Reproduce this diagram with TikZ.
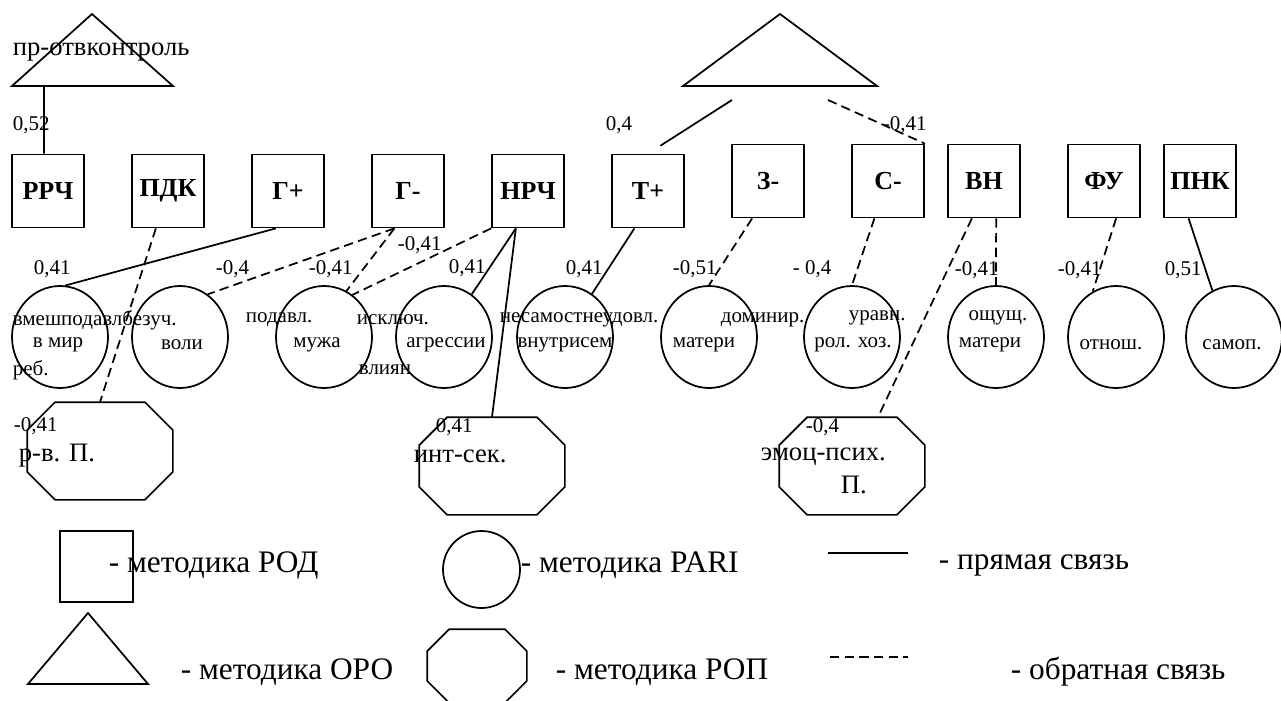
\documentclass[tikz,border=0pt]{standalone}
\usepackage{fontspec}
\setmainfont{Liberation Serif}
\usetikzlibrary{shapes.geometric}

\newcommand{\octo}[2]{%
  \draw ([xshift=#2]#1.north west) -- ([xshift=-#2]#1.north east) -- ([yshift=-#2]#1.north east)
    -- ([yshift=#2]#1.south east) -- ([xshift=-#2]#1.south east) -- ([xshift=#2]#1.south west)
    -- ([yshift=#2]#1.south west) -- ([yshift=-#2]#1.north west) -- cycle;}

\begin{document}
\begin{tikzpicture}[x=0.75pt, y=-0.75pt, line width=1.3pt,
  rod/.style={rectangle, draw=black, minimum width=54pt, minimum height=54.75pt, inner sep=0pt, font=\fontsize{19.5}{22}\selectfont\bfseries},
  pari/.style={ellipse, draw=black, minimum width=72pt, minimum height=76.5pt, inner sep=0pt},
  rop/.style={rectangle, minimum width=108pt, minimum height=72pt, inner sep=0pt},
  coef/.style={anchor=west, inner sep=0pt, font=\fontsize{15.75}{18}\selectfont},
  txt/.style={inner sep=0pt, font=\fontsize{15.75}{18}\selectfont},
  big/.style={anchor=west, inner sep=0pt, font=\fontsize{20}{22}\selectfont},
  leg/.style={anchor=west, inner sep=0pt, font=\fontsize{23.5}{26}\selectfont},
  back/.style={dash pattern=on 7pt off 4pt}]
\useasboundingbox (0,0) rectangle (1281,700);

\draw (12,86) -- (92,14) -- (173,86) -- cycle;
\node[big] (oro1) at (12,52) {пр-отвконтроль};
\coordinate (tri1) at (44,86);
\draw (683,86) -- (780,14) -- (877,86) -- cycle;
\coordinate (tri2a) at (732,100);
\coordinate (tri2b) at (828,100);

\node[rod] (rrch) at (48,191) {РРЧ};
\node[rod] (pdk) at (168,191) {ПДК};
\node[rod] (gplus) at (288,191) {Г+};
\node[rod] (gminus) at (408,191) {Г-};
\node[rod] (nrch) at (528,191) {НРЧ};
\node[rod] (tplus) at (648,191) {Т+};
\node[rod] (zminus) at (768,181) {З-};
\node[rod] (cminus) at (888,181) {С-};
\node[rod] (vn) at (984,181) {ВН};
\node[rod] (fu) at (1104,181) {ФУ};
\node[rod] (pnk) at (1200,181) {ПНК};

\node[pari] (vmesh) at (60,337) {};
\node[pari] (voli) at (180,337) {};
\node[pari] (muzha) at (324,337) {};
\node[pari] (agr) at (444,337) {};
\node[pari] (vnutr) at (565,337) {};
\node[pari] (materi) at (709,337) {};
\node[pari] (rolhoz) at (852,337) {};
\node[pari] (oshch) at (996,337) {};
\node[pari] (otnosh) at (1116,337) {};
\node[pari] (samop) at (1234,337) {};

\node[txt, anchor=west] (t1) at (12,320) {вмешподавлбезуч.};
\node[txt] (t2) at (58,345) {в мир};
\node[txt, anchor=west] (t3) at (12,370) {реб.};
\node[txt] (t4) at (182,345) {воли};
\node[txt, anchor=west] (t5) at (245,320) {подавл.};
\node[txt] (t6) at (317,345) {мужа};
\node[txt, anchor=west] (t7) at (356,320) {исключ.};
\node[txt] (t8) at (446,345) {агрессии};
\node[txt, anchor=west] (t9) at (358,370) {влиян};
\node[txt, anchor=west] (t10) at (499,320) {несамостнеудовл.};
\node[txt] (t11) at (565,345) {внутрисем};
\node[txt, anchor=west] (t12) at (720,320) {доминир.};
\node[txt] (t13) at (704,345) {матери};
\node[txt, anchor=west] (t14) at (848,318) {уравн.};
\node[txt] (t15) at (853,345) {рол. хоз.};
\node[txt] (t16) at (998,318) {ощущ.};
\node[txt] (t17) at (990,345) {матери};
\node[txt] (t18) at (1111,345) {отнош.};
\node[txt] (t19) at (1232,345) {самоп.};

\node[rop] (rvp) at (100,451) {};
\node[rop] (intsek) at (492,466) {};
\node[rop] (emoc) at (852,466) {};
\octo{rvp}{21pt}
\octo{intsek}{21pt}
\octo{emoc}{21pt}
\node[big] (o1) at (18,456) {р-в. П.};
\node[big] (o2) at (413,456) {инт-сек.};
\node[big] (o3) at (760,457) {эмоц-псих.};
\node[big] (o4) at (840,485) {П.};

\draw (tri1) -- (rrch.96);
\draw[shorten >=11pt] (tri2a) -- (tplus.north);
\draw[back] (tri2b) -- (cminus.north east);
\node[coef] (k1) at (12,125) {0,52};
\node[coef] (k2) at (605,125) {0,4};
\node[coef] (k3) at (882,125) {-0,41};

\draw (gplus.-108) -- (vmesh.84);
\draw[back] (pdk.-108) -- (rvp.north);
\draw[back] (gminus.-110) -- (voli.57);
\draw[back] (gminus.-110) -- (muzha.64);
\draw[back] (nrch.south west) -- (muzha.56);
\draw (nrch.-108) -- (agr.57);
\draw (nrch.-108) -- (intsek.north);
\draw (tplus.-110) -- (vnutr.58);
\draw[back] (zminus.-113) -- (materi.north);
\draw[back] (cminus.-110) -- (rolhoz.north);
\draw[back] (vn.-108) -- (emoc.62);
\draw[back] (vn.-72) -- (oshch.north);
\draw[back] (fu.-72) -- (otnosh.117);
\draw (pnk.-107) -- (samop.115);

\node[coef] (k4) at (33,269) {0,41};
\node[coef] (k5) at (13,426) {-0,41};
\node[coef] (k6) at (215,269) {-0,4};
\node[coef] (k7) at (308,269) {-0,41};
\node[coef] (k8) at (397,245) {-0,41};
\node[coef] (k9) at (448,268) {0,41};
\node[coef] (k10) at (435,427) {0,41};
\node[coef] (k11) at (565,269) {0,41};
\node[coef] (k12) at (672,269) {-0,51};
\node[coef] (k13) at (792,269) {- 0,4};
\node[coef] (k14) at (805,427) {-0,4};
\node[coef] (k15) at (954,270) {-0,41};
\node[coef] (k16) at (1057,270) {-0,41};
\node[coef] (k17) at (1164,270) {0,51};

\node[rod, minimum width=54.75pt, minimum height=53.25pt] (legrod) at (96.5,566.5) {};
\node[leg] (l1) at (108,565) {- методика РОД};
\node[pari, minimum width=57.75pt, minimum height=57.75pt] (legpari) at (481.5,569.5) {};
\node[leg] (l2) at (520,565) {- методика PARI};
\coordinate (ls1) at (828,553);
\coordinate (ls2) at (908,553);
\draw (ls1) -- (ls2);
\node[leg] (l3) at (938,565) {- прямая связь};
\draw (28,684) -- (88,613) -- (148,684) -- cycle;
\node[leg] (l4) at (180,672) {- методика ОРО};
\node[rop, minimum width=73.5pt, minimum height=54pt] (legrop) at (477,666) {};
\octo{legrop}{16.5pt}
\node[leg] (l5) at (555,672) {- методика РОП};
\coordinate (lb1) at (830,657);
\coordinate (lb2) at (908,657);
\draw[back] (lb1) -- (lb2);
\node[leg] (l6) at (1010,672) {- обратная связь};
\end{tikzpicture}
\end{document}
